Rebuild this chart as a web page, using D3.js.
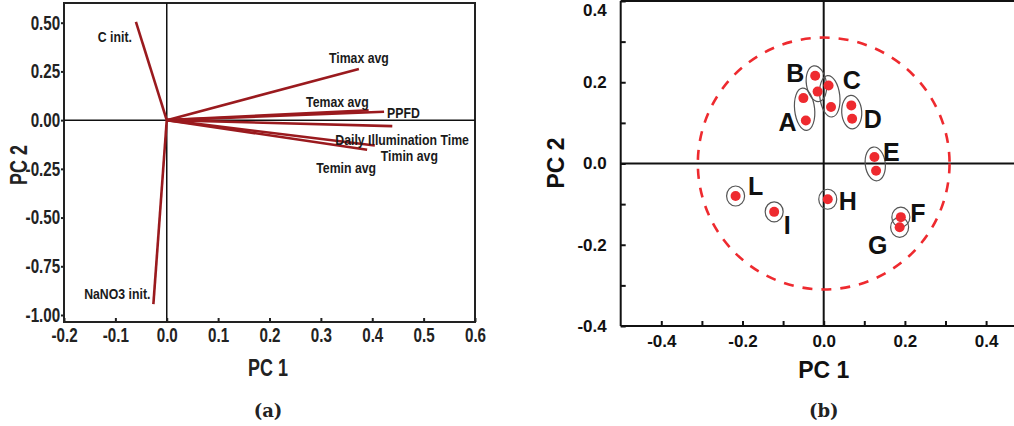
<!DOCTYPE html>
<html><head><meta charset="utf-8">
<script src="https://cdn.jsdelivr.net/npm/d3@7"></script>
<style>
body{margin:0;background:#fff}
svg{display:block}
</style>
</head><body><div id="chart"></div>
<script>
// panel (a): loadings
var varNames = ["C init.", "Timax avg", "Temax avg", "PPFD", "Daily Illumination Time", "Timin avg", "Temin avg", "NaNO3 init."]
var loadPC1 = [-0.060, 0.374, 0.393, 0.423, 0.439, 0.405, 0.390, -0.026]
var loadPC2 = [0.504, 0.262, 0.051, 0.043, -0.031, -0.130, -0.152, -0.944]
var loadTicksX = [-0.2, -0.1, 0.0, 0.1, 0.2, 0.3, 0.4, 0.5, 0.6]
var loadTicksY = [-1.0, -0.75, -0.5, -0.25, 0.0, 0.25, 0.5]

// panel (b): scores
var sampleGroup = ["A", "A", "B", "B", "C", "C", "D", "D", "E", "E", "F", "G", "H", "I", "L"]
var scorePC1 = [-0.050, -0.044, -0.021, -0.015, 0.012, 0.018, 0.068, 0.070, 0.125, 0.129, 0.190, 0.187, 0.010, -0.122, -0.217]
var scorePC2 = [0.161, 0.106, 0.216, 0.177, 0.192, 0.139, 0.143, 0.110, 0.016, -0.018, -0.132, -0.157, -0.088, -0.119, -0.080]
var scoreTicks = [-0.4, -0.3, -0.2, -0.1, 0.0, 0.1, 0.2, 0.3, 0.4]
var circleR = 0.31

// label nudges in px (layout only)
var loadLabelPos = {
  "C init.": [-4, 15, "end"], "Timax avg": [0, -11, "middle"], "Temax avg": [0, -8, "end"],
  "PPFD": [3, 1, "start"], "Daily Illumination Time": [-57, 14, "start"], "Timin avg": [6, 11, "start"],
  "Temin avg": [9, 18, "end"], "NaNO3 init.": [-3, -10, "end"]
}
var groupLabelPos = {A: [-17, 13], B: [-21, -11], C: [22, -16], D: [21, 7], E: [16, -12],
  F: [17, -4], G: [-22, 18], H: [20, 2], I: [13, 13], L: [20, -10]}

var W = 1014, H = 426
var sans = "'Liberation Sans',Arial,sans-serif"
var svg = d3.select("#chart").append("svg").attr("width", W).attr("height", H)

// no narrow font installed, so squeeze Liberation Sans instead
function squeeze(x, y, s, extra) {
  return "translate(" + x + "," + y + ")" + (extra || "") + " scale(" + s + ",1)"
}

// ---------- (a) ----------
var xa = d3.scaleLinear().domain([-0.2, 0.6]).range([64, 475])
var ya = d3.scaleLinear().domain([-1, 0.5]).range([315, 22.7])
var topA = 3, botA = 322

var ga = svg.append("g")
ga.append("rect").attr("x", xa(-0.2)).attr("y", topA).attr("width", xa(0.6) - xa(-0.2)).attr("height", botA - topA)
  .attr("fill", "none").attr("stroke", "#222").attr("stroke-width", 2)
ga.append("line").attr("x1", xa(-0.2)).attr("x2", xa(0.6)).attr("y1", ya(0)).attr("y2", ya(0)).attr("stroke", "#111").attr("stroke-width", 1.5)
ga.append("line").attr("x1", xa(0)).attr("x2", xa(0)).attr("y1", topA).attr("y2", botA).attr("stroke", "#111").attr("stroke-width", 1.5)

var axA = ga.append("g").attr("transform", "translate(0," + botA + ")")
  .call(d3.axisBottom(xa).tickValues(loadTicksX).tickFormat(d => d.toFixed(1)).tickSizeInner(-4).tickSizeOuter(0).tickPadding(6))
var ayA = ga.append("g").attr("transform", "translate(" + xa(-0.2) + ",0)")
  .call(d3.axisLeft(ya).tickValues(loadTicksY).tickFormat(d => d.toFixed(2)).tickSizeInner(3).tickSizeOuter(0).tickPadding(2))
;[axA, ayA].forEach(function(a) {
  a.select(".domain").remove()
  a.selectAll("line").attr("stroke", "#222").attr("stroke-width", 2)
  a.selectAll("text").attr("font-family", sans).attr("font-weight", "bold").attr("font-size", 20).attr("fill", "#222")
    .attr("transform", "scale(0.76,1)")
})

var load = varNames.map((n, i) => ({name: n, x: loadPC1[i], y: loadPC2[i]}))
ga.append("g").selectAll("line").data(load).enter().append("line")
  .attr("x1", xa(0)).attr("y1", ya(0))
  .attr("x2", d => xa(d.x)).attr("y2", d => ya(d.y))
  .attr("stroke", "#9a1a1e").attr("stroke-width", 2.6)
ga.append("g").selectAll("text").data(load).enter().append("text")
  .attr("transform", d => squeeze(xa(d.x) + loadLabelPos[d.name][0], ya(d.y) + loadLabelPos[d.name][1] + 5, 0.82))
  .attr("text-anchor", d => loadLabelPos[d.name][2])
  .attr("font-family", sans).attr("font-weight", "bold").attr("font-size", 15).attr("fill", "#1a1a1a")
  .text(d => d.name)

ga.append("text").attr("transform", squeeze(268, 376, 0.78)).attr("text-anchor", "middle")
  .attr("font-family", sans).attr("font-weight", "bold").attr("font-size", 23).attr("fill", "#222").text("PC 1")
ga.append("text").attr("transform", squeeze(27, 165, 0.78, " rotate(-90)")).attr("text-anchor", "middle")
  .attr("font-family", sans).attr("font-weight", "bold").attr("font-size", 23).attr("fill", "#222").text("PC 2")
ga.append("text").attr("x", 268).attr("y", 417).attr("text-anchor", "middle")
  .attr("font-family", "'DejaVu Serif',serif").attr("font-weight", "bold").attr("font-size", 18).attr("fill", "#222").text("(a)")

// ---------- (b) ----------
var xb = d3.scaleLinear().domain([-0.5, 0.5]).range([620.7, 1026.7])
var yb = d3.scaleLinear().domain([-0.4, 0.4]).range([326, 1])
var gb = svg.append("g")

var bx = gb.append("g").attr("transform", "translate(0," + yb(-0.4) + ")")
  .call(d3.axisBottom(xb).tickValues(scoreTicks).tickFormat(d => Math.round(d * 10) % 2 == 0 ? d.toFixed(1) : "")
    .tickSizeInner(-5).tickSizeOuter(0).tickPadding(9))
var by = gb.append("g").attr("transform", "translate(" + xb(-0.5) + ",0)")
  .call(d3.axisLeft(yb).tickValues(scoreTicks).tickFormat(d => Math.round(d * 10) % 2 == 0 ? d.toFixed(1) : "")
    .tickSizeInner(-5).tickSizeOuter(0).tickPadding(14))
;[bx, by].forEach(function(a) {
  a.select(".domain").remove()
  a.selectAll("line").attr("stroke", "#111").attr("stroke-width", 2)
  a.selectAll("text").attr("font-family", sans).attr("font-weight", "bold").attr("font-size", 17).attr("fill", "#111")
})
// top label sits just under the frame in the original
by.selectAll(".tick").filter(d => d > 0.35).select("text").attr("dy", "0.85em")

gb.append("line").attr("x1", xb(-0.5)).attr("x2", W).attr("y1", yb(0.4)).attr("y2", yb(0.4)).attr("stroke", "#111").attr("stroke-width", 2)
gb.append("line").attr("x1", xb(-0.5)).attr("x2", W).attr("y1", yb(-0.4)).attr("y2", yb(-0.4)).attr("stroke", "#111").attr("stroke-width", 2)
gb.append("line").attr("x1", xb(-0.5)).attr("x2", xb(-0.5)).attr("y1", yb(0.4)).attr("y2", yb(-0.4)).attr("stroke", "#111").attr("stroke-width", 2)
gb.append("line").attr("x1", xb(-0.5)).attr("x2", W).attr("y1", yb(0)).attr("y2", yb(0)).attr("stroke", "#111").attr("stroke-width", 2)
gb.append("line").attr("x1", xb(0)).attr("x2", xb(0)).attr("y1", yb(0.4)).attr("y2", yb(-0.4)).attr("stroke", "#111").attr("stroke-width", 2)

gb.append("ellipse").attr("cx", xb(0)).attr("cy", yb(0))
  .attr("rx", xb(circleR) - xb(0)).attr("ry", yb(0) - yb(circleR))
  .attr("fill", "none").attr("stroke", "#ee2a2f").attr("stroke-width", 2.6).attr("stroke-dasharray", "10,9")

var pts = sampleGroup.map((g, i) => ({g: g, x: xb(scorePC1[i]), y: yb(scorePC2[i])}))
var groups = d3.groups(pts, d => d.g)

// rings around each sample group
groups.forEach(function(gr) {
  var p = gr[1]
  var cx = d3.mean(p, d => d.x), cy = d3.mean(p, d => d.y)
  var rx = 9, ry = 10, ang = 0
  if (p.length > 1) {
    var dx = p[1].x - p[0].x, dy = p[1].y - p[0].y
    ry = Math.sqrt(dx * dx + dy * dy) / 2 + 10
    rx = 10
    ang = Math.atan2(dy, dx) * 180 / Math.PI - 90
  }
  gb.append("ellipse").attr("transform", "translate(" + cx + "," + cy + ") rotate(" + ang + ")")
    .attr("rx", rx).attr("ry", ry).attr("fill", "none").attr("stroke", "#555").attr("stroke-width", 1.2)
  gb.append("text").attr("x", cx + groupLabelPos[gr[0]][0]).attr("y", cy + groupLabelPos[gr[0]][1])
    .attr("text-anchor", "middle").attr("dominant-baseline", "central")
    .attr("font-family", sans).attr("font-weight", "bold").attr("font-size", 25).attr("fill", "#111")
    .text(gr[0])
})

gb.append("g").selectAll("circle").data(pts).enter().append("circle")
  .attr("cx", d => d.x).attr("cy", d => d.y).attr("r", 5).attr("fill", "#ee2a2f")

gb.append("text").attr("x", xb(0)).attr("y", 378).attr("text-anchor", "middle")
  .attr("font-family", sans).attr("font-weight", "bold").attr("font-size", 23).attr("fill", "#111").text("PC 1")
gb.append("text").attr("transform", "translate(564,163) rotate(-90)").attr("text-anchor", "middle")
  .attr("font-family", sans).attr("font-weight", "bold").attr("font-size", 23).attr("fill", "#111").text("PC 2")
gb.append("text").attr("x", xb(0)).attr("y", 417).attr("text-anchor", "middle")
  .attr("font-family", "'DejaVu Serif',serif").attr("font-weight", "bold").attr("font-size", 18).attr("fill", "#222").text("(b)")
</script>
</body></html>
